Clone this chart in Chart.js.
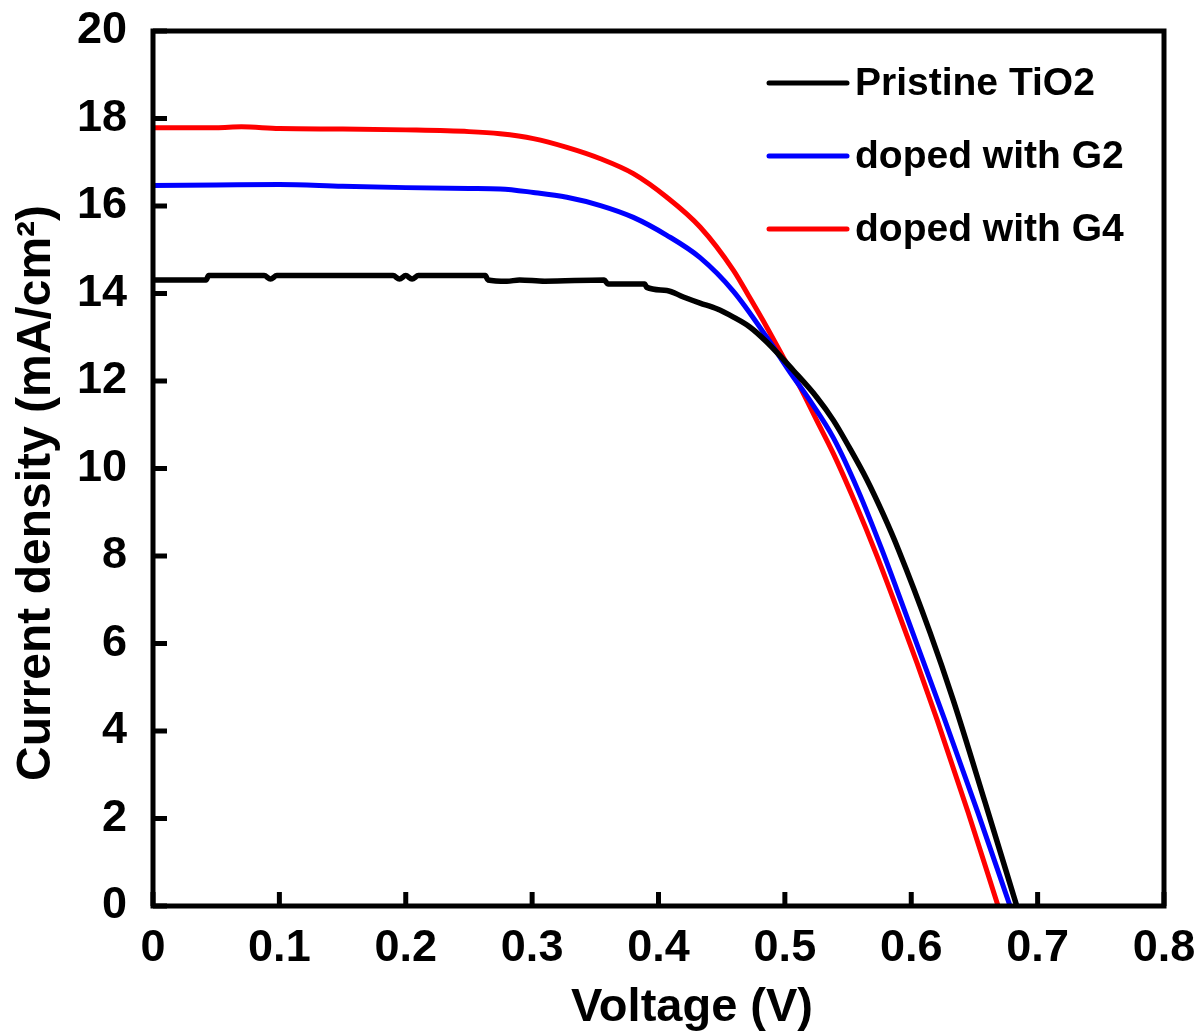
<!DOCTYPE html>
<html><head><meta charset="utf-8">
<script src="https://cdn.jsdelivr.net/npm/chart.js@4.4.1/dist/chart.umd.min.js"></script>
<style>html,body{margin:0;padding:0;background:#fff;}#wrap{width:1200px;height:1033px;position:relative;}</style>
</head><body><div id="wrap"><canvas id="c"></canvas></div>
<script>
const seriesLabels = ['Pristine TiO2', 'doped with G2', 'doped with G4'];
const seriesColors = ['#000000', '#0000ff', '#ff0000'];

const pristineV = [0, 0.042, 0.044, 0.088, 0.093, 0.098, 0.190, 0.195, 0.200, 0.205, 0.210, 0.263, 0.265, 0.280, 0.290, 0.310, 0.357, 0.360, 0.389, 0.3907, 0.4066, 0.4197, 0.4329, 0.4461, 0.4593, 0.4725, 0.4857, 0.5067, 0.5252, 0.5384, 0.5516, 0.5648, 0.5779, 0.5898, 0.6149, 0.6333, 0.6584, 0.6835];
const pristineJ = [14.31, 14.31, 14.41, 14.41, 14.33, 14.41, 14.41, 14.33, 14.41, 14.33, 14.41, 14.41, 14.31, 14.28, 14.31, 14.28, 14.31, 14.22, 14.22, 14.14, 14.07, 13.92, 13.78, 13.65, 13.46, 13.23, 12.89, 12.24, 11.63, 11.10, 10.45, 9.75, 8.95, 8.15, 6.25, 4.70, 2.37, 0];

const g2V = [0, 0.05, 0.10, 0.15, 0.20, 0.25, 0.2747, 0.3010, 0.3275, 0.3541, 0.3801, 0.4066, 0.4329, 0.4593, 0.4857, 0.5041, 0.5199, 0.5384, 0.5579, 0.5767, 0.5935, 0.6267, 0.6528, 0.6782];
const g2J = [16.47, 16.48, 16.49, 16.45, 16.42, 16.40, 16.39, 16.31, 16.20, 16.01, 15.74, 15.33, 14.82, 14.05, 13.00, 12.20, 11.55, 10.70, 9.50, 8.15, 6.85, 4.24, 2.13, 0];

const g4V = [0, 0.05, 0.07, 0.10, 0.15, 0.20, 0.25, 0.2747, 0.3010, 0.3275, 0.3541, 0.3801, 0.4066, 0.4329, 0.4593, 0.4725, 0.4857, 0.4988, 0.5120, 0.5252, 0.5384, 0.5556, 0.5722, 0.5880, 0.6046, 0.6204, 0.6449, 0.6687];
const g4J = [17.79, 17.79, 17.81, 17.77, 17.76, 17.74, 17.70, 17.65, 17.54, 17.34, 17.08, 16.74, 16.20, 15.52, 14.53, 13.89, 13.23, 12.54, 11.86, 11.10, 10.34, 9.22, 8.05, 6.85, 5.55, 4.26, 2.15, 0];

const xTicks = [0, 0.1, 0.2, 0.3, 0.4, 0.5, 0.6, 0.7, 0.8];
const xTickLabels = ['0', '0.1', '0.2', '0.3', '0.4', '0.5', '0.6', '0.7', '0.8'];
const yTicks = [0, 2, 4, 6, 8, 10, 12, 14, 16, 18, 20];
const yTickLabels = ['0', '2', '4', '6', '8', '10', '12', '14', '16', '18', '20'];
const xTitle = 'Voltage (V)';
const yTitle = 'Current density (mA/cm\u00B2)';

const FONT = '"Liberation Sans", Arial, Helvetica, sans-serif';
const pairs = (xs, ys) => xs.map((v, i) => ({ x: v, y: ys[i] }));
const zeroPad = s => { s.paddingLeft = 0; s.paddingRight = 0; s.paddingTop = 0; s.paddingBottom = 0; };

const framePlugin = {
  id: 'frame',
  afterDatasetsDraw(chart) {
    const { ctx, chartArea: a, scales: { x, y } } = chart;
    ctx.save();
    ctx.strokeStyle = '#000';
    ctx.lineWidth = 5;
    ctx.lineJoin = 'miter';
    ctx.strokeRect(a.left, a.top, a.right - a.left, a.bottom - a.top);
    ctx.lineCap = 'butt';
    xTicks.forEach(v => {
      const px = x.getPixelForValue(v);
      ctx.beginPath(); ctx.moveTo(px, a.bottom); ctx.lineTo(px, a.bottom - 14); ctx.stroke();
    });
    yTicks.forEach(v => {
      const py = y.getPixelForValue(v);
      ctx.beginPath(); ctx.moveTo(a.left, py); ctx.lineTo(a.left + 14, py); ctx.stroke();
    });
    // legend
    ctx.font = 'bold 39px ' + FONT;
    ctx.textBaseline = 'middle';
    ctx.textAlign = 'left';
    chart.data.datasets.forEach((ds, i) => {
      const ly = 83 + i * 73;
      ctx.strokeStyle = ds.borderColor;
      ctx.lineWidth = 5;
      ctx.lineCap = 'round';
      ctx.beginPath(); ctx.moveTo(769, ly); ctx.lineTo(847, ly); ctx.stroke();
      ctx.fillStyle = '#000';
      ctx.fillText(ds.label, 855, ly + 1);
    });
    // axis titles
    ctx.fillStyle = '#000';
    ctx.font = 'bold 47px ' + FONT;
    ctx.textAlign = 'center';
    ctx.textBaseline = 'alphabetic';
    ctx.fillText(xTitle, 692, 1021);
    ctx.font = 'bold 48px ' + FONT;
    ctx.translate(50, 493);
    ctx.rotate(-Math.PI / 2);
    ctx.fillText(yTitle, 0, 0);
    ctx.restore();
  }
};

new Chart(document.getElementById('c'), {
  type: 'line',
  data: {
    datasets: [
      { label: seriesLabels[0], data: pairs(pristineV, pristineJ), borderColor: seriesColors[0], borderWidth: 5.5, pointRadius: 0, cubicInterpolationMode: 'monotone' },
      { label: seriesLabels[1], data: pairs(g2V, g2J), borderColor: seriesColors[1], borderWidth: 5, pointRadius: 0, cubicInterpolationMode: 'monotone' },
      { label: seriesLabels[2], data: pairs(g4V, g4J), borderColor: seriesColors[2], borderWidth: 5, pointRadius: 0, cubicInterpolationMode: 'monotone' }
    ]
  },
  options: {
    responsive: true,
    maintainAspectRatio: false,
    animation: false,
    layout: { padding: { top: 31, right: 36, left: 0, bottom: 0 } },
    plugins: { legend: { display: false }, tooltip: { enabled: false } },
    scales: {
      x: {
        type: 'linear', min: 0, max: 0.8,
        afterBuildTicks: s => { s.ticks = xTicks.map(v => ({ value: v })); },
        afterFit: s => { s.height = 127; zeroPad(s); },
        ticks: {
          padding: 16, color: '#000', maxRotation: 0, autoSkip: false,
          font: { family: FONT, size: 45, weight: 'bold' },
          callback: v => xTickLabels[xTicks.findIndex(t => Math.abs(t - v) < 1e-9)]
        },
        grid: { display: false, drawTicks: false },
        border: { display: false }
      },
      y: {
        type: 'linear', min: 0, max: 20,
        afterBuildTicks: s => { s.ticks = yTicks.map(v => ({ value: v })); },
        afterFit: s => { s.width = 153; zeroPad(s); },
        ticks: {
          padding: 26, color: '#000', autoSkip: false,
          font: { family: FONT, size: 45, weight: 'bold' },
          callback: v => yTickLabels[yTicks.indexOf(v)]
        },
        grid: { display: false, drawTicks: false },
        border: { display: false }
      }
    }
  },
  plugins: [framePlugin]
});
</script></body></html>
